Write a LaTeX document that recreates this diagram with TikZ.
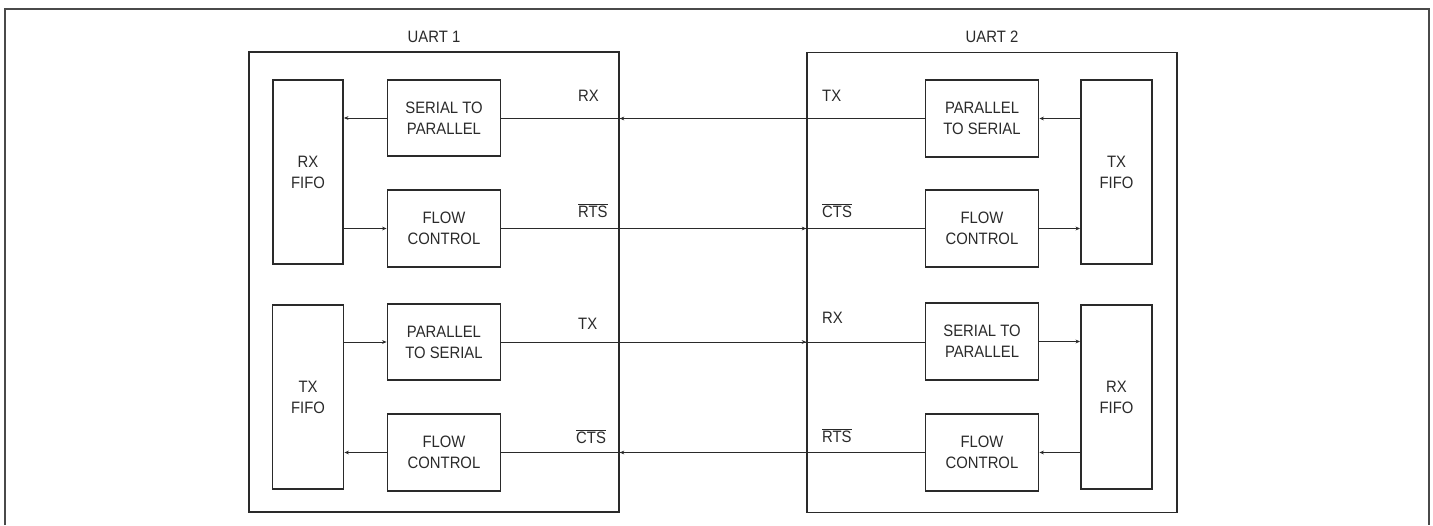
\documentclass[tikz,border=0pt]{standalone}
\usepackage{fontspec}
\setmainfont[FakeStretch=0.9]{Liberation Sans}
\usetikzlibrary{arrows.meta}
\definecolor{ink}{HTML}{2A2A2A}
\newcommand{\ovl}[1]{$\overline{\mbox{#1}}$}
\begin{document}
\begin{tikzpicture}[x=1pt,y=-1pt,
  every node/.style={font=\fontsize{16.5}{21}\selectfont, text=ink},
  blk/.style={draw=ink, line width=1.9pt, inner sep=0pt, align=center},
  uart/.style={draw=ink, line width=1.6pt, inner sep=0pt, minimum width=370pt, minimum height=460pt},
  wire/.style={draw=ink, line width=0.9pt},
  arr/.style={wire, -{Stealth[length=4.5pt,width=3.8pt]}},
  lbl/.style={anchor=base west, inner sep=0pt}]
\useasboundingbox (0,0) rectangle (1433,525);
\draw[ink!85, line width=1.4pt] (5,525) -- (5,9) -- (1429,9) -- (1429,525);

\node[uart] (u1) at (434,282) {};
\node[uart] (u2) at (992,282.5) {};
\node[anchor=base] (t1) at (434,42) {UART 1};
\node[anchor=base] (t2) at (992,42) {UART 2};

% UART 1
\node[blk, minimum width=70pt, minimum height=184pt] (lrxf) at (308,172) {RX\\FIFO};
\node[blk, minimum width=113pt, minimum height=76pt] (ls2p) at (444,118) {SERIAL TO\\PARALLEL};
\node[blk, minimum width=113pt, minimum height=77pt] (lfc1) at (444,228.5) {FLOW\\CONTROL};
\node[blk, minimum width=71pt, minimum height=184pt] (ltxf) at (308,397) {TX\\FIFO};
\node[blk, minimum width=113pt, minimum height=76pt] (lp2s) at (444,342) {PARALLEL\\TO SERIAL};
\node[blk, minimum width=113pt, minimum height=77pt] (lfc2) at (444,452.5) {FLOW\\CONTROL};

% UART 2
\node[blk, minimum width=113pt, minimum height=77pt] (rp2s) at (982,118.5) {PARALLEL\\TO SERIAL};
\node[blk, minimum width=71pt, minimum height=184pt] (rtxf) at (1116.5,172) {TX\\FIFO};
\node[blk, minimum width=113pt, minimum height=77pt] (rfc1) at (982,228.5) {FLOW\\CONTROL};
\node[blk, minimum width=113pt, minimum height=77pt] (rs2p) at (982,341.5) {SERIAL TO\\PARALLEL};
\node[blk, minimum width=71pt, minimum height=184pt] (rrxf) at (1116.5,397) {RX\\FIFO};
\node[blk, minimum width=113pt, minimum height=77pt] (rfc2) at (982,452.5) {FLOW\\CONTROL};

% internal connectors UART 1
\draw[arr] (ls2p.west) -- (ls2p.west -| lrxf.east);
\draw[arr] (lrxf.east |- lfc1.west) -- (lfc1.west);
\draw[arr] (ltxf.east |- lp2s.west) -- (lp2s.west);
\draw[arr] (lfc2.west) -- (lfc2.west -| ltxf.east);

% internal connectors UART 2
\draw[arr] (rtxf.west |- rp2s.east) -- (rp2s.east);
\draw[arr] (rfc1.east) -- (rfc1.east -| rtxf.west);
\draw[arr] (rs2p.east) -- (rs2p.east -| rrxf.west);
\draw[arr] (rrxf.west |- rfc2.east) -- (rfc2.east);

% cross connectors
\draw[wire] (rp2s.west) -- (rp2s.west -| ls2p.east);
\draw[arr] (rp2s.west) -- (rp2s.west -| u1.east);
\draw[wire] (lfc1.east) -- (lfc1.east -| rfc1.west);
\draw[arr] (lfc1.east) -- (lfc1.east -| u2.west);
\draw[wire] (lp2s.east) -- (lp2s.east -| rs2p.west);
\draw[arr] (lp2s.east) -- (lp2s.east -| u2.west);
\draw[wire] (rfc2.west) -- (rfc2.west -| lfc2.east);
\draw[arr] (rfc2.west) -- (rfc2.west -| u1.east);

% signal labels
\node[lbl] (a1) at (578,101) {RX};
\node[lbl] (a2) at (578,217) {\ovl{RTS}};
\node[lbl] (a3) at (578,329) {TX};
\node[lbl] (a4) at (576,443) {\ovl{CTS}};
\node[lbl] (b1) at (822,101) {TX};
\node[lbl] (b2) at (822,217) {\ovl{CTS}};
\node[lbl] (b3) at (822,323) {RX};
\node[lbl] (b4) at (822,442) {\ovl{RTS}};
\end{tikzpicture}
\end{document}
